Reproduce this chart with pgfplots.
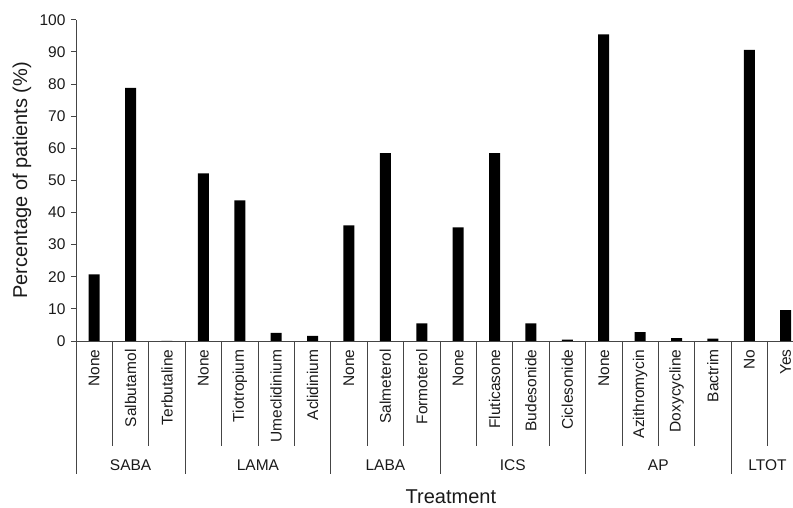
\documentclass[border=0pt]{standalone}
\usepackage{fontspec}
\setmainfont{Liberation Sans}
\usepackage{pgfplots}
\pgfplotsset{compat=1.18}
\definecolor{axgray}{HTML}{454545}
\definecolor{txt}{HTML}{1A1A1A}
\begin{document}
\begin{tikzpicture}
\begin{axis}[name=ax, scale only axis, width=717pt, height=321.3pt,
  xmin=-0.5, xmax=19.2, ymin=0, ymax=100,
  axis x line*=bottom, axis y line*=left,
  axis line style={draw=axgray, line width=0.8pt},
  clip=false,
  /pgf/number format/assume math mode=true,
  ytick={0,10,...,100},
  xtick={0,...,19},
  xticklabels={None,Salbutamol,Terbutaline,None,Tiotropium,Umeclidinium,Aclidinium,None,Salmeterol,Formoterol,None,Fluticasone,Budesonide,Ciclesonide,None,Azithromycin,Doxycycline,Bactrim,No,Yes},
  x tick style={draw=none},
  y tick style={draw=axgray, line width=0.8pt},
  tick align=outside, major tick length=5pt,
  ticklabel style={font=\fontsize{15.5}{18}\selectfont, text=txt},
  xticklabel style={rotate=90, anchor=east, yshift=0pt},
  yticklabel style={xshift=-2pt},
  ylabel={Percentage of patients (\%)},
  every axis y label/.style={at={(axis description cs:0,0.5)}, xshift=-54pt, rotate=90, anchor=center, font=\fontsize{20}{24}\selectfont, text=txt},
]
\addplot[ybar, bar width=11pt, fill=black, draw=none] coordinates {
(0,20.7) (1,78.8) (2,0)
(3,52.2) (4,43.8) (5,2.5) (6,1.6)
(7,36.0) (8,58.5) (9,5.5)
(10,35.4) (11,58.5) (12,5.5) (13,0.4)
(14,95.4) (15,2.8) (16,0.9) (17,0.7)
(18,90.6) (19,9.6)
};
% short separators within groups
\draw[axgray, line width=0.8pt] (axis cs:0.5,0) -- ++(0pt,-105pt);
\draw[axgray, line width=0.8pt] (axis cs:1.5,0) -- ++(0pt,-105pt);
\draw[axgray, line width=0.8pt] (axis cs:3.5,0) -- ++(0pt,-105pt);
\draw[axgray, line width=0.8pt] (axis cs:4.5,0) -- ++(0pt,-105pt);
\draw[axgray, line width=0.8pt] (axis cs:5.5,0) -- ++(0pt,-105pt);
\draw[axgray, line width=0.8pt] (axis cs:7.5,0) -- ++(0pt,-105pt);
\draw[axgray, line width=0.8pt] (axis cs:8.5,0) -- ++(0pt,-105pt);
\draw[axgray, line width=0.8pt] (axis cs:10.5,0) -- ++(0pt,-105pt);
\draw[axgray, line width=0.8pt] (axis cs:11.5,0) -- ++(0pt,-105pt);
\draw[axgray, line width=0.8pt] (axis cs:12.5,0) -- ++(0pt,-105pt);
\draw[axgray, line width=0.8pt] (axis cs:14.5,0) -- ++(0pt,-105pt);
\draw[axgray, line width=0.8pt] (axis cs:15.5,0) -- ++(0pt,-105pt);
\draw[axgray, line width=0.8pt] (axis cs:16.5,0) -- ++(0pt,-105pt);
\draw[axgray, line width=0.8pt] (axis cs:18.5,0) -- ++(0pt,-105pt);
% long group separators
\draw[axgray, line width=0.8pt] (axis cs:-0.5,0) -- ++(0pt,-133pt);
\draw[axgray, line width=0.8pt] (axis cs:2.5,0) -- ++(0pt,-133pt);
\draw[axgray, line width=0.8pt] (axis cs:6.5,0) -- ++(0pt,-133pt);
\draw[axgray, line width=0.8pt] (axis cs:9.5,0) -- ++(0pt,-133pt);
\draw[axgray, line width=0.8pt] (axis cs:13.5,0) -- ++(0pt,-133pt);
\draw[axgray, line width=0.8pt] (axis cs:17.5,0) -- ++(0pt,-133pt);
% group names
\node[font=\fontsize{15.5}{18}\selectfont, text=txt] at ([yshift=-124pt]axis cs:1,0) {SABA};
\node[font=\fontsize{15.5}{18}\selectfont, text=txt] at ([yshift=-124pt]axis cs:4.5,0) {LAMA};
\node[font=\fontsize{15.5}{18}\selectfont, text=txt] at ([yshift=-124pt]axis cs:8,0) {LABA};
\node[font=\fontsize{15.5}{18}\selectfont, text=txt] at ([yshift=-124pt]axis cs:11.5,0) {ICS};
\node[font=\fontsize{15.5}{18}\selectfont, text=txt] at ([yshift=-124pt]axis cs:15.5,0) {AP};
\node[font=\fontsize{15.5}{18}\selectfont, text=txt] at ([yshift=-124pt]axis cs:18.5,0) {LTOT};
\node[font=\fontsize{20}{24}\selectfont, text=txt] at ([yshift=-156pt]axis cs:9.8,0) {Treatment};
\end{axis}
\pgfresetboundingbox
\useasboundingbox ([xshift=-76pt,yshift=-167pt]ax.south west) rectangle ([yshift=19.7pt]ax.north east);
\end{tikzpicture}
\end{document}
